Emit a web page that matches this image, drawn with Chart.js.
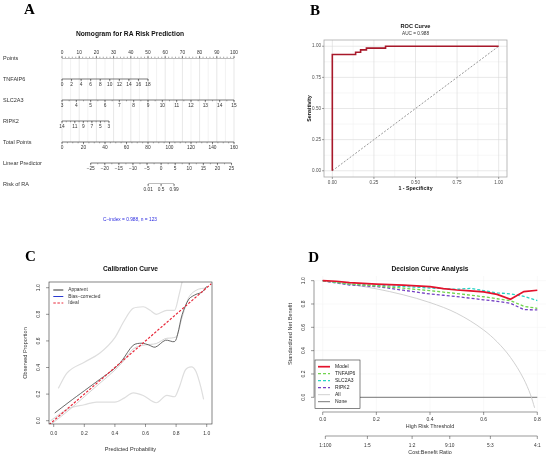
<!DOCTYPE html>
<html>
<head>
<meta charset="utf-8">
<script src="https://cdn.jsdelivr.net/npm/chart.js@4.4.1/dist/chart.umd.min.js"></script>
<style>
    html, body { margin: 0; padding: 0; background: #fff; }
    #page { position: relative; width: 550px; height: 459px; overflow: hidden; background: #fff; }
    canvas { position: absolute; }
</style>
</head>
<body>
<div id="page">
    <canvas id="nomo" width="275" height="230" style="left:0;top:0"></canvas>
    <canvas id="roc" width="275" height="230" style="left:275px;top:0"></canvas>
    <canvas id="calib" width="275" height="229" style="left:0;top:230px"></canvas>
    <canvas id="dca" width="275" height="229" style="left:275px;top:230px"></canvas>
</div>
<script>
// ---- A: nomogram scales ----
const nomoRowNames = ['Points', 'TNFAIP6', 'SLC2A3', 'RIPK2', 'Total Points', 'Linear Predictor', 'Risk of RA'];
const pointsTicks = [0, 10, 20, 30, 40, 50, 60, 70, 80, 90, 100];
const tnfaip6Ticks = [0, 2, 4, 6, 8, 10, 12, 14, 16, 18];
const slc2a3Ticks = [3, 4, 5, 6, 7, 8, 9, 10, 11, 12, 13, 14, 15];
const ripk2Ticks = [14, 11, 9, 7, 5, 3];
const totalTicks = [0, 20, 40, 60, 80, 100, 120, 140, 160];
const lpTicks = [-25, -20, -15, -10, -5, 0, 5, 10, 15, 20, 25];
const riskTicks = [0.01, 0.5, 0.99];
const cIndexText = 'C\u2212index = 0.988, n = 123';

// ---- B: ROC ----
const rocFpr  = [0, 0, 0.14, 0.14, 0.17, 0.17, 0.205, 0.205, 0.32, 0.32, 1];
const rocSens = [0, 0.934, 0.934, 0.952, 0.952, 0.971, 0.971, 0.985, 0.985, 1, 1];
const rocTicks = [0, 0.25, 0.5, 0.75, 1];
const rocTickLabels = ['0.00', '0.25', '0.50', '0.75', '1.00'];
const aucText = 'AUC = 0.988';

// ---- C: calibration ----
const apparentX = [0.007, 0.1, 0.2, 0.3, 0.4, 0.445, 0.52, 0.577, 0.62, 0.664, 0.73, 0.79, 0.81, 0.84, 0.884, 0.93, 0.97, 1.0];
const apparentY = [0.058, 0.14, 0.225, 0.31, 0.395, 0.45, 0.568, 0.583, 0.57, 0.553, 0.605, 0.595, 0.65, 0.8, 0.915, 0.95, 0.967, 1.01];
const biasX = [-0.02, 0.1, 0.2, 0.3, 0.4, 0.45, 0.52, 0.6, 0.67, 0.74, 0.8, 0.84, 0.88, 0.93, 1.0];
const biasY = [-0.03, 0.08, 0.18, 0.28, 0.38, 0.44, 0.54, 0.57, 0.58, 0.62, 0.63, 0.78, 0.92, 0.98, 1.0];
const upperX = [0.03, 0.085, 0.2, 0.3, 0.4, 0.46, 0.52, 0.585, 0.63, 0.67, 0.74, 0.79, 0.82, 0.85];
const upperY = [0.243, 0.356, 0.44, 0.507, 0.625, 0.75, 0.845, 0.857, 0.83, 0.8, 0.83, 0.83, 0.95, 1.1];
const lowerX = [-0.02, 0.1, 0.2, 0.28, 0.4, 0.46, 0.52, 0.585, 0.67, 0.74, 0.79, 0.82, 0.86, 0.9, 0.93, 0.96, 0.98];
const lowerY = [0.0, 0.093, 0.12, 0.14, 0.14, 0.17, 0.21, 0.19, 0.135, 0.19, 0.18, 0.25, 0.38, 0.405, 0.37, 0.26, 0.16];
const idealX = [-0.03, 1.03];
const idealY = [-0.03, 1.03];
const calibTicks = [0, 0.2, 0.4, 0.6, 0.8, 1.0];

// ---- D: decision curve ----
const dcaThreshold = [0, 0.05, 0.1, 0.15, 0.2, 0.25, 0.3, 0.35, 0.4, 0.45, 0.5, 0.55, 0.6, 0.65, 0.7, 0.75, 0.8];
const modelNB   = [1.0, 0.995, 0.983, 0.977, 0.971, 0.966, 0.961, 0.956, 0.949, 0.932, 0.92, 0.913, 0.904, 0.882, 0.84, 0.906, 0.918];
const tnfaip6NB = [1.0, 0.985, 0.971, 0.962, 0.954, 0.944, 0.936, 0.925, 0.914, 0.902, 0.89, 0.876, 0.862, 0.845, 0.829, 0.78, 0.763];
const slc2a3NB  = [1.0, 0.985, 0.971, 0.966, 0.96, 0.955, 0.95, 0.944, 0.937, 0.932, 0.926, 0.934, 0.915, 0.895, 0.887, 0.866, 0.829];
const ripk2NB   = [1.0, 0.98, 0.963, 0.956, 0.949, 0.935, 0.918, 0.902, 0.886, 0.875, 0.863, 0.85, 0.836, 0.823, 0.806, 0.752, 0.749];
const allX  = [0, 0.1, 0.2, 0.3, 0.4, 0.5, 0.6, 0.65, 0.7, 0.75, 0.775, 0.79];
const allNB = [1.0, 0.969, 0.93, 0.879, 0.812, 0.72, 0.577, 0.476, 0.342, 0.154, 0.02, -0.09];
const noneX  = [0, 0.8];
const noneNB = [0, 0];
const dcaXTicks = [0, 0.2, 0.4, 0.6, 0.8];
const dcaYTicks = [0, 0.2, 0.4, 0.6, 0.8, 1.0];
const costBenefitLabels = ['1:100', '1:5', '1:2', '9:10', '5:3', '4:1'];

// ---------- helpers ----------
const SANS = '"Liberation Sans", Arial, sans-serif';
const font = (size, bold) => (bold ? 'bold ' : '') + size + 'px ' + SANS;
const letterFont = 'bold 15px "Liberation Serif", "Times New Roman", serif';

function text(ctx, s, x, y, f, opt = {}) {
    ctx.save();
    ctx.font = f;
    ctx.fillStyle = opt.color || '#222';
    ctx.textAlign = opt.align || 'center';
    ctx.textBaseline = opt.base || 'middle';
    ctx.translate(x, y);
    if (opt.rot) ctx.rotate(opt.rot);
    ctx.fillText(s, 0, 0);
    ctx.restore();
}

function seg(ctx, x1, y1, x2, y2, color, w, dash) {
    ctx.save();
    ctx.strokeStyle = color;
    ctx.lineWidth = w;
    ctx.setLineDash(dash || []);
    ctx.beginPath();
    ctx.moveTo(x1, y1);
    ctx.lineTo(x2, y2);
    ctx.stroke();
    ctx.restore();
}

const pairs = (xs, ys) => xs.map((x, i) => ({ x: x, y: ys[i] }));

function steps(from, to, by) {
    const out = [];
    for (let v = from; v <= to + 1e-9; v += by) out.push(+v.toFixed(4));
    return out;
}

function line(data, color, width, dash, extra) {
    return Object.assign({
        data: data, borderColor: color, borderWidth: width, borderDash: dash || [],
        pointRadius: 0, fill: false, tension: 0
    }, extra || {});
}

function makeChart(id, datasets, pad, xr, yr, plugin, reverseY) {
    return new Chart(document.getElementById(id), {
        type: 'line',
        data: { datasets: datasets },
        options: {
            responsive: false,
            animation: false,
            devicePixelRatio: 1,
            layout: { padding: pad },
            plugins: { legend: { display: false }, title: { display: false }, tooltip: { enabled: false } },
            scales: {
                x: { type: 'linear', display: false, min: xr[0], max: xr[1] },
                y: { type: 'linear', display: false, min: yr[0], max: yr[1], reverse: !!reverseY }
            }
        },
        plugins: [plugin]
    });
}

// ---------- A: nomogram ----------
const lpToPts = v => (92.2 + 2.62 * v) / 160 * 100;
const nomoAxes = [
    { row: 0, toPts: v => v, labels: pointsTicks, minor: steps(0, 100, 2), above: true },
    { row: 1, toPts: v => v / 18 * 50, labels: tnfaip6Ticks, minor: tnfaip6Ticks },
    { row: 2, toPts: v => (v - 3) / 12 * 100, labels: slc2a3Ticks, minor: steps(3, 15, 0.5) },
    { row: 3, toPts: v => (14 - v) / 11 * 27.3, labels: ripk2Ticks, minor: steps(3, 14, 1) },
    { row: 4, toPts: v => v / 160 * 100, labels: totalTicks, minor: steps(0, 160, 5) },
    { row: 5, toPts: lpToPts, labels: lpTicks, minor: steps(-25, 25, 2.5) },
    { row: 6, toPts: r => lpToPts(Math.log(r / (1 - r))), labels: riskTicks, minor: riskTicks }
];

const nomoPlugin = {
    id: 'nomoText',
    beforeDatasetsDraw(chart) {
        const { ctx, scales: { x, y } } = chart;
        const top = y.getPixelForValue(0), bottom = y.getPixelForValue(4);
        for (let p = 0; p <= 100; p += 5) {
            const px = x.getPixelForValue(p);
            seg(ctx, px, top, px, bottom, p % 10 === 0 ? '#cfcfcf' : '#e4e4e4', 0.5);
        }
    },
    afterDatasetsDraw(chart) {
        const { ctx, scales: { x, y } } = chart;
        nomoAxes.forEach(a => {
            const py = y.getPixelForValue(a.row);
            const dir = a.above ? -1 : 1;
            a.minor.forEach(v => {
                const px = x.getPixelForValue(a.toPts(v));
                seg(ctx, px, py, px, py + dir * 1.3, '#555', 0.5);
            });
            a.labels.forEach(v => {
                const px = x.getPixelForValue(a.toPts(v));
                seg(ctx, px, py, px, py + dir * 2.2, '#444', 0.6);
                text(ctx, String(v).replace('-', '\u2212'), px, py + dir * 5.5, font(4.8), { color: '#333' });
            });
            text(ctx, nomoRowNames[a.row], 3, py, font(5.5), { align: 'left', color: '#333' });
        });
        text(ctx, 'Nomogram for RA Risk Prediction', 130, 34, font(6.7, true), { color: '#111' });
        text(ctx, cIndexText, 130, 220, font(4.8), { color: '#2a2ae0' });
        text(ctx, 'A', 24, 14, letterFont, { align: 'left', base: 'alphabetic', color: '#000' });
    }
};

makeChart('nomo',
    nomoAxes.map(a => line([
        { x: a.toPts(a.labels[0]), y: a.row },
        { x: a.toPts(a.labels[a.labels.length - 1]), y: a.row }
    ], '#444', 0.7)),
    { left: 62, right: 41, top: 58, bottom: 46 }, [0, 100], [0, 6], nomoPlugin, true);

// ---------- B: ROC ----------
const rocPlugin = {
    id: 'rocFrame',
    beforeDatasetsDraw(chart) {
        const { ctx, chartArea: ca, scales: { x, y } } = chart;
        [0.125, 0.375, 0.625, 0.875].forEach(v => {
            seg(ctx, x.getPixelForValue(v), ca.top, x.getPixelForValue(v), ca.bottom, '#ececec', 0.5);
            seg(ctx, ca.left, y.getPixelForValue(v), ca.right, y.getPixelForValue(v), '#ececec', 0.5);
        });
        rocTicks.forEach(v => {
            seg(ctx, x.getPixelForValue(v), ca.top, x.getPixelForValue(v), ca.bottom, '#d9d9d9', 0.6);
            seg(ctx, ca.left, y.getPixelForValue(v), ca.right, y.getPixelForValue(v), '#d9d9d9', 0.6);
        });
    },
    afterDatasetsDraw(chart) {
        const { ctx, chartArea: ca, scales: { x, y } } = chart;
        ctx.save();
        ctx.strokeStyle = '#aaaaaa';
        ctx.lineWidth = 0.8;
        ctx.strokeRect(ca.left, ca.top, ca.right - ca.left, ca.bottom - ca.top);
        ctx.restore();
        rocTicks.forEach((v, i) => {
            const px = x.getPixelForValue(v), py = y.getPixelForValue(v);
            seg(ctx, px, ca.bottom, px, ca.bottom + 2, '#444', 0.5);
            seg(ctx, ca.left, py, ca.left - 2, py, '#444', 0.5);
            text(ctx, rocTickLabels[i], px, ca.bottom + 5.5, font(4.6), { color: '#4d4d4d' });
            text(ctx, rocTickLabels[i], ca.left - 3, py, font(4.6), { align: 'right', color: '#4d4d4d' });
        });
        const cx = (ca.left + ca.right) / 2;
        text(ctx, 'ROC Curve', cx, 26.7, font(5.6, true), { color: '#111' });
        text(ctx, aucText, cx, 33.7, font(4.7), { color: '#333' });
        text(ctx, '1 - Specificity', cx, 188.7, font(5.3, true), { color: '#111' });
        text(ctx, 'Sensitivity', 34.3, (ca.top + ca.bottom) / 2, font(5.3, true), { color: '#111', rot: -Math.PI / 2 });
        text(ctx, 'B', 35, 15, letterFont, { align: 'left', base: 'alphabetic', color: '#000' });
    }
};

makeChart('roc', [
    line(pairs(rocFpr, rocSens), '#a8182a', 1.6),
    line(pairs([0, 1], [0, 1]), '#8c8c8c', 0.9, [2, 1.6])
], { left: 49, right: 43, top: 40, bottom: 53 }, [-0.05, 1.05], [-0.05, 1.05], rocPlugin);

// ---------- C: calibration ----------
const calibPlugin = {
    id: 'calibFrame',
    afterDatasetsDraw(chart) {
        const { ctx, chartArea: ca, scales: { x, y } } = chart;
        ctx.save();
        ctx.strokeStyle = '#333';
        ctx.lineWidth = 0.6;
        ctx.strokeRect(ca.left, ca.top, ca.right - ca.left, ca.bottom - ca.top);
        ctx.restore();
        calibTicks.forEach(v => {
            const px = x.getPixelForValue(v), py = y.getPixelForValue(v);
            seg(ctx, px, ca.bottom, px, ca.bottom + 3, '#333', 0.5);
            seg(ctx, ca.left, py, ca.left - 3, py, '#333', 0.5);
            text(ctx, v.toFixed(1), px, ca.bottom + 9.5, font(5), { color: '#333' });
            text(ctx, v.toFixed(1), ca.left - 10.5, py, font(5), { color: '#333', rot: -Math.PI / 2 });
        });
        const cx = (ca.left + ca.right) / 2;
        text(ctx, 'Calibration Curve', cx, 39, font(6.6, true), { color: '#111' });
        text(ctx, 'Predicted Probability', cx, 219.7, font(5.6), { color: '#333' });
        text(ctx, 'Observed Proportion', 25, (ca.top + ca.bottom) / 2, font(5.6), { color: '#333', rot: -Math.PI / 2 });
        // legend
        const items = [
            ['Apparent', '#333', []],
            ['Bias\u2212corrected', '#2a3ad0', []],
            ['Ideal', '#e8283a', [2.5, 1.6]]
        ];
        items.forEach((it, i) => {
            const ly = 60 + i * 6.5;
            seg(ctx, 53.3, ly, 63.3, ly, it[1], 1, it[2]);
            text(ctx, it[0], 68.3, ly, font(4.8), { align: 'left', color: '#333' });
        });
        text(ctx, 'C', 25, 30.7, letterFont, { align: 'left', base: 'alphabetic', color: '#000' });
    }
};

const smooth = { cubicInterpolationMode: 'monotone' };
makeChart('calib', [
    line(pairs(idealX, idealY), '#e8283a', 1.2, [2.5, 1.6]),
    line(pairs(apparentX, apparentY), '#444', 0.8, [], { tension: 0.3 }),
    line(pairs(biasX, biasY), '#cfcfcf', 0.9, [], smooth),
    line(pairs(upperX, upperY), '#dedede', 1.2, [], smooth),
    line(pairs(lowerX, lowerY), '#dedede', 1.2, [], smooth)
], { left: 49, right: 63, top: 52, bottom: 35 }, [-0.0307, 1.0346], [-0.0248, 1.043], calibPlugin);

// ---------- D: decision curve ----------
const dcaSeries = [
    { name: 'Model', x: dcaThreshold, y: modelNB, color: '#e3122c', width: 1.7, dash: [] },
    { name: 'TNFAIP6', x: dcaThreshold, y: tnfaip6NB, color: '#72d44e', width: 1.3, dash: [3, 2] },
    { name: 'SLC2A3', x: dcaThreshold, y: slc2a3NB, color: '#25d4c4', width: 1.3, dash: [3, 2] },
    { name: 'RIPK2', x: dcaThreshold, y: ripk2NB, color: '#7440c4', width: 1.3, dash: [3, 2] },
    { name: 'All', x: allX, y: allNB, color: '#cccccc', width: 0.9, dash: [], smooth: true },
    { name: 'None', x: noneX, y: noneNB, color: '#555555', width: 0.8, dash: [] }
];

const dcaPlugin = {
    id: 'dcaFrame',
    beforeDatasetsDraw(chart) {
        const { ctx, chartArea: ca, scales: { x, y } } = chart;
        dcaXTicks.forEach(v => seg(ctx, x.getPixelForValue(v), ca.top, x.getPixelForValue(v), ca.bottom, '#f0f0f0', 0.5));
        dcaYTicks.forEach(v => seg(ctx, ca.left, y.getPixelForValue(v), ca.right, y.getPixelForValue(v), '#f3f3f3', 0.5));
    },
    afterDatasetsDraw(chart) {
        const { ctx, chartArea: ca, scales: { x, y } } = chart;
        const x0 = x.getPixelForValue(0), x1 = x.getPixelForValue(0.8);
        const y0 = y.getPixelForValue(0), y1 = y.getPixelForValue(1);
        // left axis
        seg(ctx, ca.left, y0, ca.left, y1, '#333', 0.5);
        dcaYTicks.forEach(v => {
            const py = y.getPixelForValue(v);
            seg(ctx, ca.left, py, ca.left - 3, py, '#333', 0.5);
            text(ctx, v.toFixed(1), 28.3, py, font(5), { color: '#333', rot: -Math.PI / 2 });
        });
        // threshold axis
        seg(ctx, x0, ca.bottom, x1, ca.bottom, '#333', 0.5);
        dcaXTicks.forEach(v => {
            const px = x.getPixelForValue(v);
            seg(ctx, px, ca.bottom, px, ca.bottom + 3, '#333', 0.5);
            text(ctx, v.toFixed(1), px, 189.3, font(5), { color: '#333' });
        });
        // cost:benefit axis
        const cb = costBenefitLabels.map(s => { const [a, b] = s.split(':').map(Number); return a / (a + b); });
        seg(ctx, x.getPixelForValue(cb[0]), 206, x.getPixelForValue(cb[cb.length - 1]), 206, '#333', 0.5);
        cb.forEach((t, i) => {
            const px = x.getPixelForValue(t);
            seg(ctx, px, 206, px, 209, '#333', 0.5);
            text(ctx, costBenefitLabels[i], px, 216, font(4.8), { color: '#333' });
        });
        const cx = (ca.left + ca.right) / 2;
        text(ctx, 'Decision Curve Analysis', cx, 39.3, font(6.6, true), { color: '#111' });
        text(ctx, 'High Risk Threshold', cx, 196.7, font(5.4), { color: '#333' });
        text(ctx, 'Cost:Benefit Ratio', cx, 222.7, font(5.4), { color: '#333' });
        text(ctx, 'Standardized Net Benefit', 15.7, 104, font(5.6), { color: '#333', rot: -Math.PI / 2 });
        // legend box
        ctx.save();
        ctx.fillStyle = '#fff';
        ctx.fillRect(40, 130, 45, 48.3);
        ctx.strokeStyle = '#333';
        ctx.lineWidth = 0.6;
        ctx.strokeRect(40, 130, 45, 48.3);
        ctx.restore();
        dcaSeries.forEach((s, i) => {
            const ly = 136.7 + i * 7;
            seg(ctx, 43, ly, 55, ly, s.color, s.width, s.dash);
            text(ctx, s.name, 60, ly, font(5), { align: 'left', color: '#222' });
        });
        text(ctx, 'D', 33.3, 31.7, letterFont, { align: 'left', base: 'alphabetic', color: '#000' });
    }
};

makeChart('dca',
    dcaSeries.map(s => line(pairs(s.x, s.y), s.color, s.width, s.dash, s.smooth ? smooth : {})),
    { left: 39, right: 4, top: 46, bottom: 47 }, [-0.0324, 0.8324], [-0.126, 1.04], dcaPlugin);
</script>
</body>
</html>
